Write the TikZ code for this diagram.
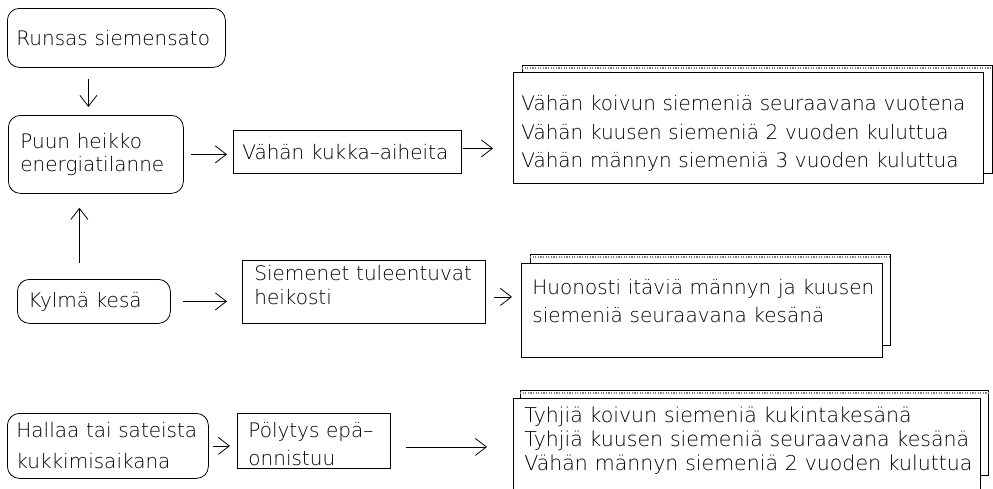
\documentclass[tikz,border=0pt]{standalone}
\usepackage{fontspec}
\setmainfont{DejaVu Sans ExtraLight}[WordSpace=2.0]
\usetikzlibrary{arrows.meta}

\tikzset{
  every node/.style={font=\fontsize{20}{24}\selectfont},
  roundbox/.style={draw, line width=0.8pt, rounded corners=12pt, align=left, anchor=north west, inner ysep=0pt},
  squarebox/.style={draw, line width=0.8pt, align=left, anchor=north west, inner ysep=0pt},
  pageback/.style={draw, line width=0.8pt, fill=white, anchor=north west},
  pagefront/.style={draw, line width=0.8pt, fill=white, align=left, anchor=north west, inner ysep=0pt},
  pageedge/.style={line width=1.6pt, gray, dash pattern=on 1.2pt off 1.4pt},
  arr/.style={line width=0.8pt, -{Straight Barb[length=11pt,width=17pt,line width=0.8pt]}}
}

\begin{document}
\begin{tikzpicture}[x=1pt, y=-1pt]
   \useasboundingbox (0,0) rectangle (993,488);
   \clip (0,0) rectangle (993,488);
   % left column
   \node[roundbox, inner xsep=9pt, text width=200pt, minimum height=59pt] (runsas) at (7,8) {Runsas siemensato};
   \node[roundbox, inner xsep=12pt, text width=151pt, minimum height=78pt, font=\fontsize{20}{23}\selectfont] (puun) at (8,115) {Puun heikko\\energiatilanne};
   \node[roundbox, inner xsep=11pt, text width=131pt, minimum height=44pt] (kylma) at (17,279) {Kylmä kesä};
   \node[roundbox, inner xsep=9pt, text width=183pt, minimum height=65pt, font=\fontsize{20}{31}\selectfont] (hallaa) at (7,413) {Hallaa tai sateista\\kukkimisaikana};
   % middle column
   \node[squarebox, inner xsep=9pt, text width=210pt, minimum height=43pt] (kukka) at (233,130) {Vähän kukka–aiheita};
   \node[squarebox, inner xsep=12pt, text width=219pt, minimum height=63pt, text depth=38pt] (siemenet) at (242,260) {Siemenet tuleentuvat\\heikosti};
   \node[squarebox, inner xsep=11pt, text width=131pt, minimum height=55pt, text height=22pt, font=\fontsize{20}{28}\selectfont] (polytys) at (237,413) {Pölytys epä–\\onnistuu};
   % stacked pages
   \node[pageback, minimum width=470pt, minimum height=108pt] (p1back) at (522,65) {};
   \draw[pageedge] ([yshift=-3pt]p1back.north west) -- ([yshift=-3pt]p1back.north east);
   \node[pagefront, inner xsep=8pt, text width=454pt, minimum height=111pt, text height=26pt, font=\fontsize{20}{28.5}\selectfont] (p1) at (513,72) {Vähän koivun siemeniä seuraavana vuotena\\Vähän kuusen siemeniä 2 vuoden kuluttua\\Vähän männyn siemeniä 3 vuoden kuluttua};
   \node[pageback, minimum width=360pt, minimum height=91pt] (p2back) at (530,254) {};
   \draw[pageedge] ([yshift=-3pt]p2back.north west) -- ([yshift=-3pt]p2back.north east);
   \node[pagefront, inner xsep=11pt, text width=339pt, minimum height=94pt, text depth=48pt, font=\fontsize{20}{28}\selectfont] (p2) at (521,263) {\mbox{Huonosti itäviä männyn ja kuusen}\\siemeniä seuraavana kesänä};
   \node[pageback, minimum width=468pt, minimum height=85pt] (p3back) at (520,390) {};
   \draw[pageedge] ([yshift=-3pt]p3back.north west) -- ([yshift=-3pt]p3back.north east);
   \node[pagefront, inner xsep=11pt, text width=445pt, minimum height=100pt, text depth=67pt, font=\fontsize{20.5}{24}\selectfont] (p3) at (513,398) {\mbox{Tyhjiä koivun siemeniä kukintakesänä}\\\mbox{Tyhjiä kuusen siemeniä seuraavana kesänä}\\\mbox{Vähän männyn siemeniä 2 vuoden kuluttua}};
   % arrows
   \draw[arr, shorten <=11pt, shorten >=8pt] ([xshift=-28pt]runsas.south) -- ([xshift=-28pt]runsas.south |- puun.north);
   \draw[arr, shorten <=16pt, shorten >=14pt] ([xshift=-14.5pt]kylma.north) -- ([xshift=-14.5pt]kylma.north |- puun.south);
   \draw[arr, shorten <=7pt, shorten >=6pt] (puun.east) -- (kukka.west |- puun.east);
   \draw[arr, shorten <=1pt, shorten >=20pt] ([yshift=3.5pt]kukka.east) -- ([yshift=3.5pt]p1.west |- kukka.east);
   \draw[arr, shorten <=12pt, shorten >=15pt] (kylma.east) -- (siemenet.west |- kylma.east);
   \draw[arr, shorten <=8pt, shorten >=9pt] ([yshift=-5pt]siemenet.east) -- ([yshift=-5pt]p2.west |- siemenet.east);
   \draw[arr, shorten <=4pt, shorten >=7pt] (hallaa.east) -- (polytys.west |- hallaa.east);
   \draw[arr, shorten <=15pt, shorten >=26pt] ([yshift=-6pt]polytys.east) -- ([yshift=-6pt]p3.west |- polytys.east);
\end{tikzpicture}
\end{document}
